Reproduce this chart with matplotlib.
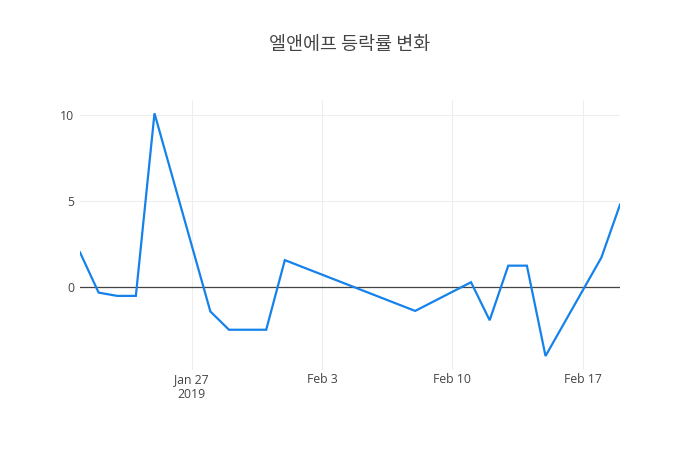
import matplotlib
matplotlib.use("Agg")
import matplotlib.pyplot as plt
import matplotlib.dates as mdates
import numpy as np
import pandas as pd

dates = ["2019-01-21", "2019-01-22", "2019-01-23", "2019-01-24", "2019-01-25",
         "2019-01-28", "2019-01-29", "2019-01-31", "2019-02-01",
         "2019-02-08", "2019-02-11", "2019-02-12", "2019-02-13", "2019-02-14",
         "2019-02-15", "2019-02-18", "2019-02-19"]
values = [2.02, -0.31, -0.5, -0.5, 10.07,
          -1.4, -2.46, -2.46, 1.57,
          -1.37, 0.29, -1.91, 1.25, 1.25,
          -3.98, 1.72, 4.78]
title = "엘앤에프 등락률 변화"
xtick_dates = ["2019-01-27", "2019-02-03", "2019-02-10", "2019-02-17"]
xtick_labels = ["Jan 27\n2019", "Feb 3", "Feb 10", "Feb 17"]
ytick_vals = [0, 5, 10]

x = pd.to_datetime(dates)
plt.rcParams['font.family'] = ['Open Sans', 'Noto Sans CJK KR', 'DejaVu Sans']

fig = plt.figure(figsize=(7, 4.5), dpi=100)
ax = fig.add_axes([80/700, 80/450, 540/700, 270/450])

ax.plot(x, values, color='#1482ea', lw=1.6, zorder=3, solid_joinstyle='miter')
ax.axhline(0, color='#444444', lw=0.9, zorder=2)

ax.set_xlim(x[0], x[-1])
ax.set_ylim(-4.79, 10.84)
ax.set_yticks(ytick_vals)
ax.set_yticklabels([str(v) for v in ytick_vals])
ax.set_xticks(pd.to_datetime(xtick_dates))
ax.set_xticklabels(xtick_labels)

ax.grid(True, color='#eeeeee', lw=0.8, zorder=0)
for s in ax.spines.values():
    s.set_visible(False)
ax.tick_params(length=0, colors='#444444', labelsize=8.8)
ax.tick_params(axis='x', pad=2)
ax.tick_params(axis='y', pad=4)
for lab in ax.get_xticklabels():
    lab.set_linespacing(1.25)

fig.text(0.5, 1 - 45/450, title, ha='center', va='center', fontsize=13.3,
         color='#444444', family=['Noto Sans CJK KR', 'DejaVu Sans'])

fig.savefig("out.png", dpi=100)
